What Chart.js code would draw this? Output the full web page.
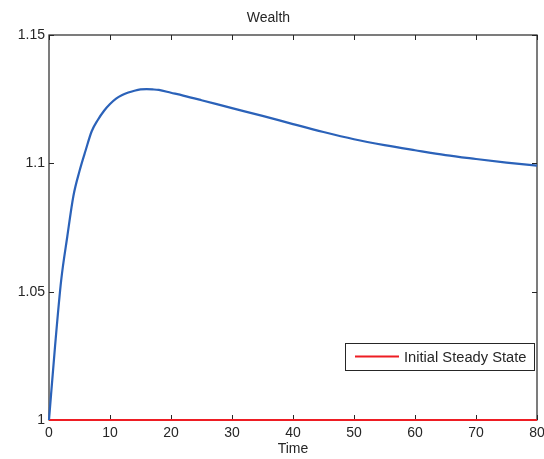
<!DOCTYPE html>
<html>
<head>
<meta charset="utf-8">
<script src="https://cdn.jsdelivr.net/npm/chart.js@4.4.1/dist/chart.umd.min.js"></script>
<style>
  html, body { margin: 0; padding: 0; background: #fff; }
</style>
</head>
<body>
<canvas id="wealth-chart" width="544" height="459"></canvas>
<script>
// wealth path after the shock
const periods = [0, 1, 2, 3, 4, 5, 6, 7, 8, 9, 10, 11, 12, 13, 14, 15, 16, 17, 18, 20, 22, 25,
    30, 35, 40, 45, 50, 55, 60, 65, 70, 75, 80];
const wealth = [1.0, 1.029, 1.0545, 1.0715, 1.0873, 1.097, 1.105, 1.1125, 1.1169, 1.1204, 1.1231,
    1.1252, 1.1266, 1.1276, 1.1283, 1.1288, 1.1289, 1.1288, 1.1286, 1.1275, 1.1264, 1.1246,
    1.1215, 1.1185, 1.1153, 1.1122, 1.1094, 1.1071, 1.1051, 1.1032, 1.1017, 1.1003, 1.0991];

// initial steady state
const steadyPeriods = [0, 80];
const steadyWealth = [1, 1];

const xTicks = [0, 10, 20, 30, 40, 50, 60, 70, 80];
const yTicks = [1, 1.05, 1.1, 1.15];

const FONT = "'Liberation Sans', Arial, Helvetica, sans-serif";
const INK = "#262626";

function toPoints(xs, ys){
    return xs.map(function(x, i){ return {x: x, y: ys[i]}; });
}

// box around the plot with inward ticks on all four sides
const framePlugin = {
    id: "frame",
    beforeDatasetsDraw(chart){
        const {ctx, chartArea: a, scales: {x, y}} = chart;
        const len = 5;
        ctx.save();
        ctx.strokeStyle = INK;
        ctx.lineWidth = 1.2;
        ctx.strokeRect(a.left, a.top, a.right - a.left, a.bottom - a.top);
        ctx.lineWidth = 1;
        ctx.beginPath();
        xTicks.forEach(function(v){
            const px = Math.round(x.getPixelForValue(v)) + 0.5;
            ctx.moveTo(px, a.bottom); ctx.lineTo(px, a.bottom - len);
            ctx.moveTo(px, a.top); ctx.lineTo(px, a.top + len);
        });
        yTicks.forEach(function(v){
            const py = Math.round(y.getPixelForValue(v)) + 0.5;
            ctx.moveTo(a.left, py); ctx.lineTo(a.left + len, py);
            ctx.moveTo(a.right, py); ctx.lineTo(a.right - len, py);
        });
        ctx.stroke();
        ctx.restore();
    }
};

// legend box for the steady state line, inside the lower right corner
const boxLegend = {
    id: "boxLegend",
    afterDatasetsDraw(chart){
        const {ctx, chartArea: a} = chart;
        const ds = chart.data.datasets[1];
        ctx.save();
        ctx.font = "14.7px " + FONT;
        const tw = ctx.measureText(ds.label).width;
        const w = 10 + 44 + 5 + tw + 8;
        const h = 27;
        const right = a.right - 3;
        const bottom = a.bottom - 50;
        const left = Math.round(right - w);
        const top = bottom - h;
        ctx.fillStyle = "#fff";
        ctx.fillRect(left, top, right - left, h);
        ctx.strokeStyle = INK;
        ctx.lineWidth = 1;
        ctx.strokeRect(left + 0.5, top + 0.5, right - left, h);
        ctx.strokeStyle = ds.borderColor;
        ctx.lineWidth = ds.borderWidth;
        ctx.beginPath();
        ctx.moveTo(left + 10, top + h / 2);
        ctx.lineTo(left + 54, top + h / 2);
        ctx.stroke();
        ctx.fillStyle = INK;
        ctx.textBaseline = "middle";
        ctx.fillText(ds.label, left + 59, top + h / 2 + 1);
        ctx.restore();
    }
};

new Chart(document.getElementById("wealth-chart").getContext("2d"), {
    type: "line",
    data: {
        datasets: [
            {
                label: "Wealth",
                data: toPoints(periods, wealth),
                borderColor: "#2b62b9",
                borderWidth: 2.2,
                pointRadius: 0,
                cubicInterpolationMode: "monotone",
                clip: 3,
            },
            {
                label: "Initial Steady State",
                data: toPoints(steadyPeriods, steadyWealth),
                borderColor: "#ee1d23",
                borderWidth: 2.2,
                pointRadius: 0,
                clip: 3,
            },
        ],
    },
    options: {
        responsive: false,
        animation: false,
        layout: { padding: { left: 0, right: 7, top: 0, bottom: 0 } },
        plugins: {
            legend: { display: false },
            tooltip: { enabled: false },
            title: {
                display: true,
                text: "Wealth",
                color: INK,
                font: { family: FONT, size: 14, weight: "normal", lineHeight: 1.2 },
                padding: { top: 10, bottom: 8.2 },
            },
        },
        scales: {
            x: {
                type: "linear",
                min: 0,
                max: 80,
                afterBuildTicks(scale){ scale.ticks = xTicks.map(function(v){ return {value: v}; }); },
                afterFit(scale){ scale.height = 39; scale.paddingLeft = 0; scale.paddingRight = 0; },
                grid: { display: false, drawTicks: false },
                border: { display: false },
                ticks: {
                    color: INK,
                    font: { family: FONT, size: 14 },
                    padding: 5,
                    maxRotation: 0,
                    callback: function(v){ return String(v); },
                },
                title: {
                    display: true,
                    text: "Time",
                    color: INK,
                    font: { family: FONT, size: 14, lineHeight: 1.2 },
                    padding: { top: 0, bottom: 1 },
                },
            },
            y: {
                min: 1,
                max: 1.15,
                afterBuildTicks(scale){ scale.ticks = yTicks.map(function(v){ return {value: v}; }); },
                afterFit(scale){ scale.width = 49; scale.paddingTop = 0; scale.paddingBottom = 0; },
                grid: { display: false, drawTicks: false },
                border: { display: false },
                ticks: {
                    color: INK,
                    font: { family: FONT, size: 14 },
                    padding: 4,
                    callback: function(v){ return String(v); },
                },
            },
        },
    },
    plugins: [framePlugin, boxLegend],
});
</script>
</body>
</html>
